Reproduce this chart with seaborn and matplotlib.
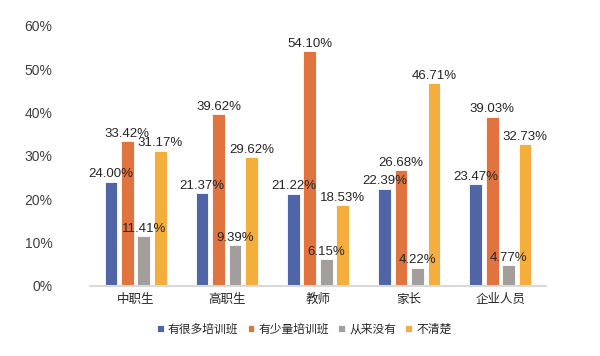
import pandas as pd
import seaborn as sns
import matplotlib.pyplot as plt
import matplotlib.ticker as ticker

# Datos
grupos = ['中职生', '高职生', '教师', '家长', '企业人员']
series = ['有很多培训班', '有少量培训班', '从来没有', '不清楚']
muchos = [24.00, 21.37, 21.22, 22.39, 23.47]
pocos = [33.42, 39.62, 54.10, 26.68, 39.03]
nunca = [11.41, 9.39, 6.15, 4.22, 4.77]
no_sabe = [31.17, 29.62, 18.53, 46.71, 32.73]
colores = ['#5065A6', '#E1733F', '#A39E9C', '#F4AE3B']

filas = []
for nombre, valores in zip(series, [muchos, pocos, nunca, no_sabe]):
    for g, v in zip(grupos, valores):
        filas.append([g, nombre, v])
df = pd.DataFrame(filas, columns=['grupo', 'serie', 'valor'])

sns.set_style('white')
plt.rcParams['font.family'] = ['Liberation Sans', 'Noto Sans CJK SC', 'DejaVu Sans']

fig = plt.figure(figsize=(6, 3.56), dpi=100)
ax = fig.add_axes([0.15, 0.197, 0.76, 0.731])

sns.barplot(data=df, x='grupo', y='valor', hue='serie', palette=colores, saturation=1,
            width=0.72, gap=0.23, edgecolor='white', linewidth=0.6, ax=ax)

for cont in ax.containers:
    ax.bar_label(cont, fmt='%.2f%%', padding=1, fontsize=9.5, color='#262626')

ax.set_ylim(0, 60)
ax.set_yticks(range(0, 61, 10))
ax.yaxis.set_major_formatter(ticker.FuncFormatter(lambda x, pos: f'{x:.0f}%'))
ax.set_xlim(-0.5, 4.5)
ax.set_xlabel('')
ax.set_ylabel('')
ax.tick_params(axis='y', length=0, labelsize=10, pad=27, colors='#404040')
ax.tick_params(axis='x', length=0, labelsize=9, pad=5, colors='#262626')
for lab in ax.get_xticklabels():
    lab.set_family(['Noto Sans CJK SC', 'DejaVu Sans'])

for s in ['top', 'right', 'left']:
    ax.spines[s].set_visible(False)
ax.spines['bottom'].set_color('#D9D9D9')
ax.spines['bottom'].set_linewidth(1.5)

ax.legend(loc='upper center', bbox_to_anchor=(0.47, -0.1), ncol=4, frameon=False,
          handlelength=0.55, handleheight=0.55, handletextpad=0.35, columnspacing=0.8,
          prop={'family': ['Noto Sans CJK SC', 'DejaVu Sans'], 'size': 8.5})

plt.savefig('out.png', dpi=100)
